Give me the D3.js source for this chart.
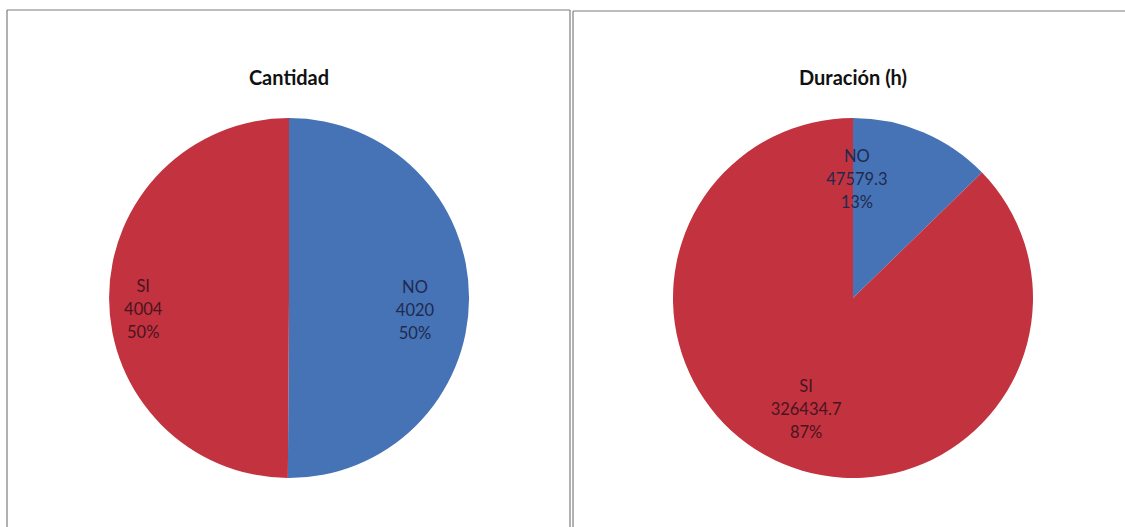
<!DOCTYPE html>
<html>
<head>
<meta charset="utf-8">
<script src="https://cdn.jsdelivr.net/npm/d3@7"></script>
<style>
  html, body { margin: 0; padding: 0; background: #ffffff; }
  svg { display: block; }
</style>
</head>
<body>
<svg id="chart" width="1125" height="527"></svg>
<script>
// Data: two pies, one for counts and one for duration in hours
const titles = ["Cantidad", "Duración (h)"];
const categories = ["NO", "SI"];
const cantidadValues = [4020, 4004];
const duracionValues = [47579.3, 326434.7];
const valueLabels = [["4020", "4004"], ["47579.3", "326434.7"]];

const colors = { NO: "#4672B6", SI: "#C2323F" };
const textColors = { NO: "#1E2A4E", SI: "#4A1421" };

// Panel layout
const panels = [
  { x0: 7, x1: 570, top: 10, cx: 289, cy: 298, values: cantidadValues,
    // label radius factor and vertical shift per slice
    labelK: { NO: 0.70, SI: 0.81 }, labelDy: { NO: 12, SI: 12 }, labelAngle: {} },
  { x0: 573, x1: 1125, top: 11, cx: 853, cy: 298, values: duracionValues,
    labelK: { NO: 0.66, SI: 0.67 }, labelDy: { NO: 0, SI: 0 }, labelAngle: { NO: 0.02 } }
];
const radius = 180;

const svg = d3.select("#chart");

// Frame lines around the panels
const frame = svg.append("g").attr("stroke", "#7d7d7d").attr("stroke-width", 1.2).attr("fill", "none");
frame.append("line").attr("x1", panels[0].x0).attr("y1", panels[0].top).attr("x2", panels[0].x1).attr("y2", panels[0].top);
frame.append("line").attr("x1", panels[0].x0).attr("y1", panels[0].top).attr("x2", panels[0].x0).attr("y2", 527);
frame.append("line").attr("x1", panels[0].x1).attr("y1", panels[0].top).attr("x2", panels[0].x1).attr("y2", 527);
frame.append("line").attr("x1", panels[1].x0).attr("y1", panels[1].top).attr("x2", panels[1].x1).attr("y2", panels[1].top);
frame.append("line").attr("x1", panels[1].x0).attr("y1", panels[1].top).attr("x2", panels[1].x0).attr("y2", 527);

const pie = d3.pie().sort(null).value(d => d.value);
const arc = d3.arc().innerRadius(0).outerRadius(radius);
const pct = d3.format(".0%");

panels.forEach((p, i) => {
  const g = svg.append("g").attr("transform", `translate(${p.cx},${p.cy})`);

  g.append("text")
    .attr("x", 0).attr("y", 80 - p.cy)
    .attr("text-anchor", "middle")
    .attr("dominant-baseline", "middle")
    .attr("font-family", "Lato, 'Open Sans', sans-serif")
    .attr("font-weight", "bold")
    .attr("font-size", 20)
    .attr("fill", "#111")
    .text(titles[i]);

  const data = categories.map((c, j) => ({ cat: c, value: p.values[j], label: valueLabels[i][j] }));
  const total = d3.sum(p.values);
  const arcs = pie(data);

  g.selectAll("path.slice").data(arcs).join("path")
    .attr("class", "slice")
    .attr("d", arc)
    .attr("fill", d => colors[d.data.cat]);

  arcs.forEach(d => {
    const k = p.labelK[d.data.cat];
    const lr = radius * k;
    const shift = p.labelAngle[d.data.cat] || null;
    let pos;
    if (shift !== null) {
      // keep the label inside a narrow slice by placing it near the slice's start edge
      const a = d.startAngle + (d.endAngle - d.startAngle) * shift;
      pos = [lr * Math.sin(a) + 2, -lr * Math.cos(a)];
    } else {
      pos = d3.arc().innerRadius(lr).outerRadius(lr).centroid(d);
    }
    const lines = [d.data.cat, d.data.label, pct(d.data.value / total)];
    const t = g.append("text")
      .attr("text-anchor", "middle")
      .attr("font-family", "Lato, 'Open Sans', sans-serif")
      .attr("font-size", 16.5)
      .attr("fill", textColors[d.data.cat]);
    lines.forEach((s, li) => {
      t.append("tspan")
        .attr("x", pos[0])
        .attr("y", pos[1] + p.labelDy[d.data.cat] + (li - 1) * 23)
        .attr("dy", "0.35em")
        .text(s);
    });
  });
});
</script>
</body>
</html>
